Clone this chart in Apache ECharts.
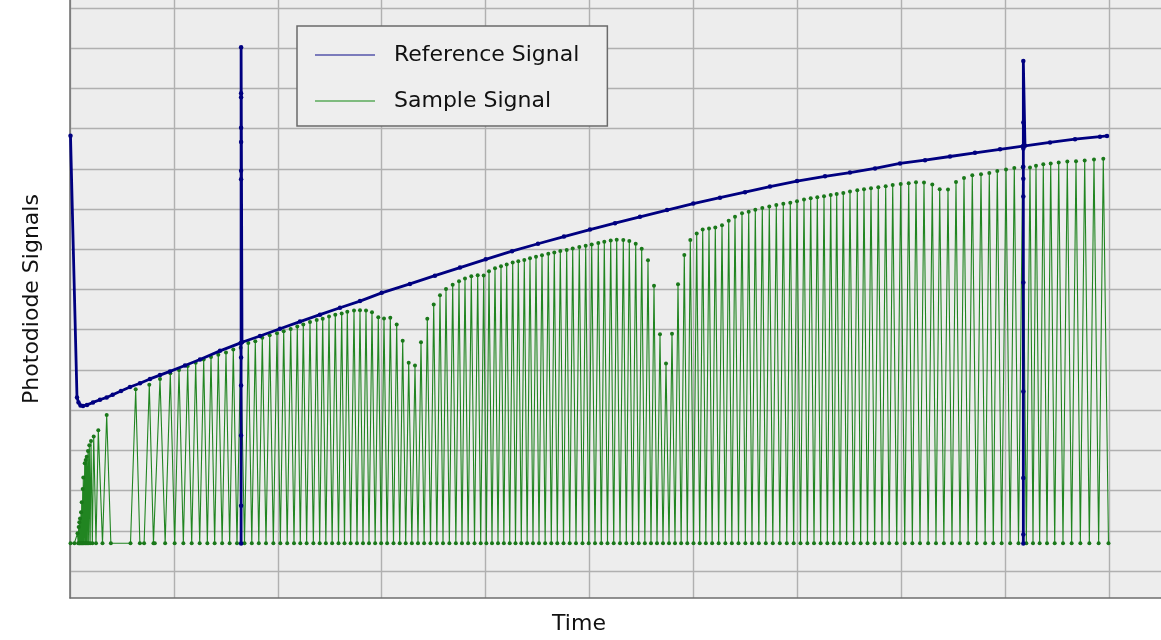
<!DOCTYPE html>
<html>
<head>
<meta charset="utf-8">
<script src="https://cdn.jsdelivr.net/npm/echarts@6/dist/echarts.min.js"></script>
<style>
html,body{margin:0;padding:0;background:#fff;}
#chart{width:1161px;height:640px;}
</style>
</head>
<body>
<div id="chart"></div>
<script>
// ---- Sample signal (green): peak times and peak values, constant dark baseline ----
const sampleBase = 0.572;
const sampleStart = 0.005;
const sampleEnd = 9.995;
const samplePeakTimes = [
  0.0722,0.0837,0.0895,0.0962,0.1059,0.1126,0.1222,0.1280,0.1415,0.1511,0.1607,0.1732,0.1858,0.2021,0.2281,0.2724,0.3532,
  0.6323,0.7632,0.8662,0.9654,1.0491,1.1328,1.2098,1.2868,1.3571,1.4273,1.5014,1.5717,1.6429,1.7161,1.7834,1.8508,1.9220,1.9923,
  2.0568,2.1242,2.1877,2.2454,2.3099,2.3744,2.4321,2.4928,2.5534,2.6150,2.6689,2.7334,2.7911,2.8489,2.9066,2.9673,
  3.0221,3.0828,3.1444,3.2021,3.2599,3.3205,3.3782,3.4389,3.5005,3.5611,3.6189,3.6833,3.7440,3.8017,3.8624,3.9240,3.9817,
  4.0327,4.0905,4.1482,4.2031,4.2608,4.3147,4.3725,4.4273,4.4851,4.5428,4.6035,4.6612,4.7190,4.7806,4.8383,4.9018,4.9634,
  5.0212,5.0847,5.1424,5.2041,5.2618,5.3253,5.3831,5.4447,5.5024,5.5630,5.6208,5.6785,5.7363,5.7940,5.8518,5.9124,5.9702,
  6.0318,6.0895,6.1502,6.2108,6.2753,6.3398,6.4004,6.4678,6.5322,6.5958,6.6632,6.7305,6.7979,6.8653,6.9326,6.9971,
  7.0645,7.1290,7.1925,7.2570,7.3215,7.3792,7.4427,7.5072,7.5775,7.6420,7.7093,7.7796,7.8508,7.9182,7.9952,
  8.0722,8.1424,8.2194,8.2993,8.3705,8.4504,8.5274,8.6044,8.6843,8.7681,8.8479,8.9249,
  9.0087,9.0885,9.1694,9.2396,9.2974,9.3677,9.4389,9.5159,9.5987,9.6824,9.7661,9.8556,9.9451
];
const samplePeakValues = [
  0.821,0.978,1.095,1.194,1.351,1.600,1.933,2.221,2.580,2.662,2.744,2.886,3.027,3.134,3.251,3.408,3.789,
  4.435,4.545,4.694,4.833,4.918,5.017,5.100,5.182,5.241,5.299,5.356,5.430,5.473,5.597,5.639,5.729,5.789,5.838,
  5.888,5.945,6.012,6.062,6.119,6.169,6.201,6.261,6.301,6.336,6.376,6.410,6.418,6.410,6.368,6.244,
  6.211,6.226,6.062,5.654,5.100,5.032,5.614,6.201,6.560,6.791,6.948,7.057,7.147,7.214,7.271,7.296,7.289,
  7.396,7.470,7.520,7.562,7.612,7.644,7.679,7.719,7.761,7.794,7.836,7.868,7.903,7.928,7.968,8.002,8.035,
  8.067,8.102,8.134,8.167,8.184,8.177,8.152,8.085,7.960,7.669,7.032,5.813,5.082,5.828,7.072,7.803,8.177,
  8.341,8.440,8.465,8.490,8.550,8.664,8.764,8.848,8.888,8.938,8.980,9.022,9.055,9.087,9.112,9.154,
  9.197,9.229,9.254,9.279,9.311,9.336,9.361,9.396,9.428,9.453,9.478,9.502,9.527,9.560,9.585,
  9.602,9.627,9.619,9.570,9.453,9.445,9.634,9.734,9.801,9.826,9.858,9.908,
  9.950,9.983,10.007,10.000,10.042,10.082,10.100,10.124,10.149,10.157,10.174,10.199,10.216
];

// ---- Reference signal (blue): smooth curve points ----
const refTimes = [
  0.0048,0.0674,0.0818,0.1011,0.1251,0.1636,0.2214,0.2887,0.3532,0.4110,0.4909,0.5775,0.6737,0.7700,0.8662,0.9625,
  1.1069,1.2512,1.4437,1.6429,1.6554,1.8287,2.0212,2.2137,2.4062,2.5987,2.7911,3.0000,3.2719,3.5125,3.7536,
  4.0010,4.2541,4.5043,4.7546,5.0048,5.2454,5.4861,5.7459,5.9990,6.2560,6.4966,6.7372,6.9971,7.2666,7.5072,7.7478,
  7.9885,8.2291,8.4697,8.7103,8.9509,9.1723,9.1915,9.4321,9.6728,9.9134,9.9808
];
const refValues = [
  10.796,4.229,4.104,4.030,4.017,4.042,4.104,4.172,4.229,4.296,4.391,4.490,4.585,4.694,4.789,4.883,
  5.032,5.182,5.398,5.597,5.614,5.771,5.953,6.132,6.306,6.480,6.647,6.853,7.077,7.284,7.488,
  7.694,7.898,8.085,8.264,8.440,8.602,8.761,8.930,9.092,9.241,9.378,9.520,9.657,9.776,9.871,9.975,
  10.100,10.182,10.274,10.366,10.453,10.535,10.542,10.627,10.709,10.771,10.789
];
// vertical transients in the reference signal
const spikeTimes = [1.6468, 9.1755];
const spikeValues = [
  [5.231,4.527,3.276,1.510,0.565,9.701,9.918,10.639,10.995,11.759,11.858,13.017],
  [10.473,10.017,9.719,9.271,7.114,4.378,2.206,0.789,0.565,11.127,12.669]
];

// ---- build series data ----
function buildSample(){
  const d = [[sampleStart, sampleBase]];
  for (let i = 0; i < samplePeakTimes.length; i++) {
    const t = samplePeakTimes[i];
    if (i === 0) {
      d.push([t - 0.03, sampleBase]);
    } else {
      const prev = samplePeakTimes[i-1];
      if (t - prev <= 0.1) d.push([(prev + t) / 2, sampleBase]);
      else { d.push([prev + 0.04, sampleBase]); d.push([t - 0.05, sampleBase]); }
    }
    d.push([t, samplePeakValues[i]]);
  }
  d.push([sampleEnd, sampleBase]);
  return d;
}
function buildRef(){
  const d = [];
  for (let i = 0; i < refTimes.length; i++) {
    d.push([refTimes[i], refValues[i]]);
    if (i < refTimes.length - 1) {
      spikeTimes.forEach((st, k) => {
        if (refTimes[i] <= st && refTimes[i+1] > st) {
          spikeValues[k].forEach(v => d.push([st, v]));
        }
      });
    }
  }
  return d;
}

const FONT = 'DejaVu Sans';
const GRIDLINE = {show: true, lineStyle: {color: '#b0b0b0', width: 1.4}};
const NOSPLIT = {show: false};
const chart = echarts.init(document.getElementById('chart'), null, {renderer: 'canvas'});
function ax(o){
  return Object.assign({type: 'value', axisTick: {show: false}, axisLabel: {show: false},
    axisLine: {show: false}, splitLine: NOSPLIT}, o);
}
chart.setOption({
  animation: false,
  backgroundColor: '#ffffff',
  grid: [
    // 0: full plot frame (background + axis lines)
    {left: 70, right: 0, top: 0, bottom: 42, show: true, backgroundColor: '#ededed', borderWidth: 0},
    // 1: vertical grid lines spanning full height
    {left: 70, right: 52, top: 0, bottom: 42},
    // 2: horizontal grid lines spanning full width
    {left: 70, right: 0, top: 8, bottom: 69},
    // 3: data area
    {left: 70, right: 52, top: 8, bottom: 69}
  ],
  legend: {
    orient: 'vertical', left: 297, top: 26,
    padding: [17, 28, 13, 18], itemGap: 22,
    itemWidth: 60, itemHeight: 2, icon: 'rect',
    backgroundColor: '#eeeeee', borderColor: '#6a6a6a', borderWidth: 1.5, borderRadius: 0,
    textStyle: {fontSize: 22, fontFamily: FONT, color: '#111', lineHeight: 24, padding: [0, 0, 0, 14]},
    data: [
      {name: 'Reference Signal', itemStyle: {color: '#7b7bbb'}},
      {name: 'Sample Signal', itemStyle: {color: '#7fbb7f'}}
    ]
  },
  xAxis: [
    ax({gridIndex: 0, min: 0, max: 1,
      axisLine: {show: true, onZero: false, lineStyle: {color: '#6e6e6e', width: 1.5}}}),
    ax({gridIndex: 1, min: 0, max: 10, interval: 1, splitLine: GRIDLINE}),
    ax({gridIndex: 2, min: 0, max: 1}),
    ax({gridIndex: 3, min: 0, max: 10, interval: 1,
      name: 'Time', nameLocation: 'middle', nameGap: 47,
      nameTextStyle: {fontSize: 22, fontFamily: FONT, color: '#111', padding: [0, 21, 0, 0]}})
  ],
  yAxis: [
    ax({gridIndex: 0, min: 0, max: 1,
      axisLine: {show: true, onZero: false, lineStyle: {color: '#6e6e6e', width: 1.5}},
      name: 'Photodiode Signals', nameLocation: 'middle', nameGap: 27,
      nameTextStyle: {fontSize: 22, fontFamily: FONT, color: '#111'}}),
    ax({gridIndex: 1, min: 0, max: 1}),
    ax({gridIndex: 2, min: 0, max: 14, interval: 1, splitLine: GRIDLINE}),
    ax({gridIndex: 3, min: 0, max: 14, interval: 1})
  ],
  series: [
    {
      name: 'Sample Signal', type: 'line', xAxisIndex: 3, yAxisIndex: 3,
      data: buildSample(),
      symbol: 'circle', symbolSize: 4, showSymbol: true,
      lineStyle: {color: '#218521', width: 1.1},
      itemStyle: {color: '#1a781a'},
      emphasis: {disabled: true}, z: 2
    },
    {
      name: 'Reference Signal', type: 'line', xAxisIndex: 3, yAxisIndex: 3,
      data: buildRef(),
      symbol: 'circle', symbolSize: 4.5, showSymbol: true,
      lineStyle: {color: '#000080', width: 2.8},
      itemStyle: {color: '#000080'},
      emphasis: {disabled: true}, z: 3
    }
  ]
});
</script>
</body>
</html>
